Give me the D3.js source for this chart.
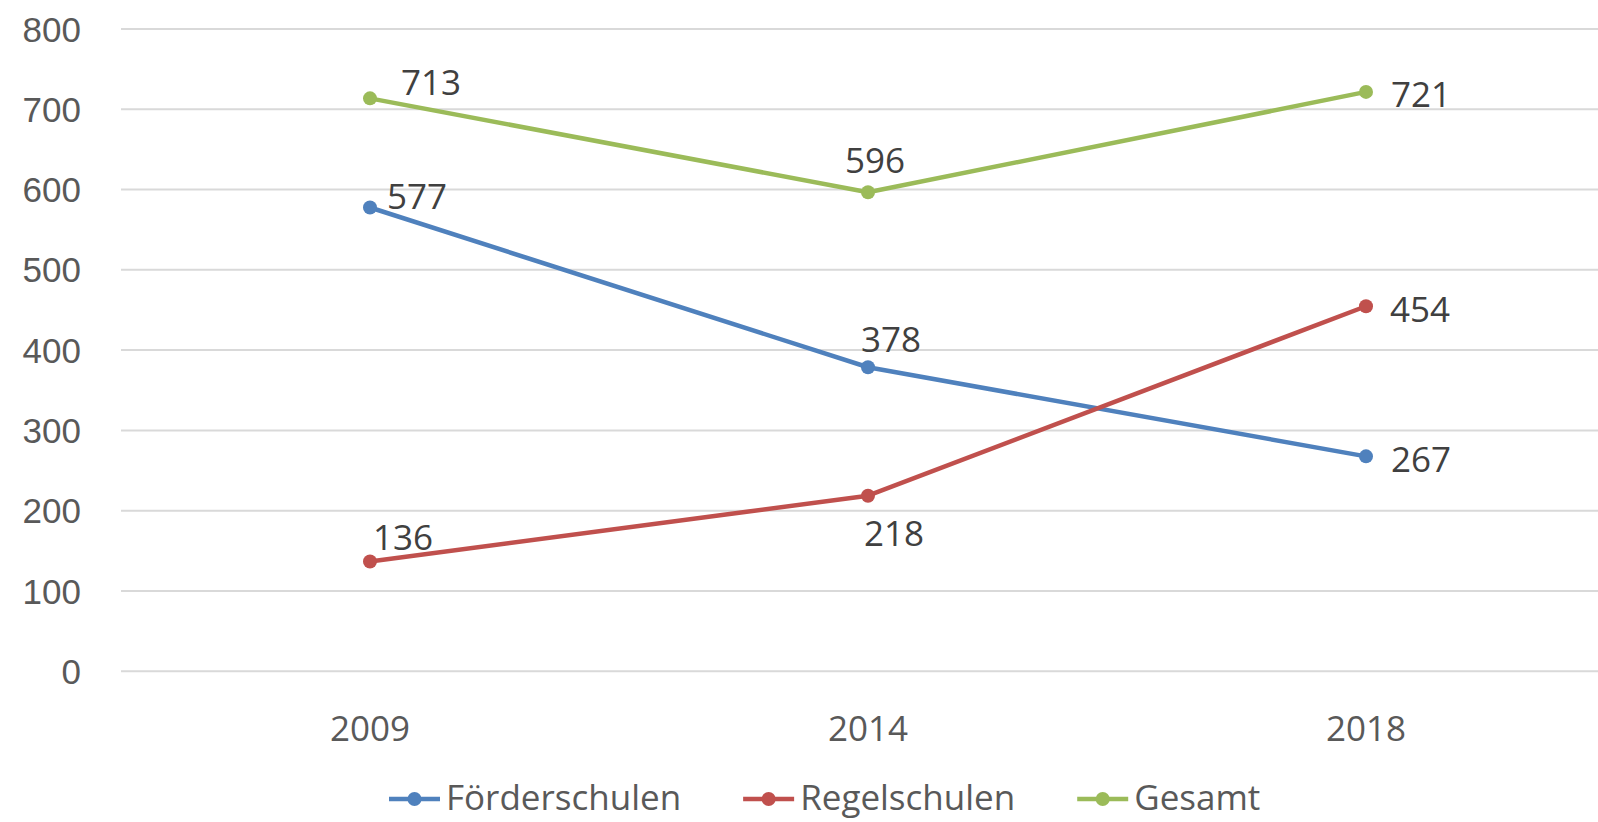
<!DOCTYPE html>
<html>
<head>
<meta charset="utf-8">
<script src="https://cdn.jsdelivr.net/npm/d3@7"></script>
<style>
  html, body { margin: 0; padding: 0; background: #fff; }
  svg { display: block; font-family: "Open Sans", sans-serif; }
</style>
</head>
<body>
<div id="chart"></div>
<script>
// data
const years = ["2009", "2014", "2018"];
const foerderschulen = [577, 378, 267];
const regelschulen = [136, 218, 454];
const gesamt = [713, 596, 721];
const yTicks = [0, 100, 200, 300, 400, 500, 600, 700, 800];

const seriesNames = ["Förderschulen", "Regelschulen", "Gesamt"];
const seriesValues = [foerderschulen, regelschulen, gesamt];
const seriesColors = ["#4F81BD", "#C0504D", "#9BBB59"];

// where each data label sits relative to its point (dx, dy to baseline)
const labelOffsets = [
    [[17, 1], [-7, -15], [25, 16]],
    [[3, -12], [-4, 50], [24, 16]],
    [[31, -3], [-23, -19], [25, 15]]
];

const W = 1598, H = 822;
const plotLeft = 121, plotRight = 1598;

const svg = d3.select("#chart").append("svg")
    .attr("width", W)
    .attr("height", H);

const x = d3.scaleBand()
    .domain(years)
    .range([plotLeft, 1615]);

const y = d3.scaleLinear()
    .domain([0, 800])
    .range([670.7, 28.5]);

const cx = d => x(d) + x.bandwidth() / 2;

// y axis + gridlines
const yAxis = svg.append("g")
    .attr("transform", "translate(" + plotLeft + ",0)")
    .call(d3.axisLeft(y)
        .tickValues(yTicks)
        .tickSize(-(plotRight - plotLeft))
        .tickPadding(40));

yAxis.select(".domain").remove();
yAxis.selectAll(".tick line")
    .attr("stroke", "#D9D9D9")
    .attr("stroke-width", 2);
yAxis.selectAll(".tick text")
    .attr("fill", "#595959")
    .attr("font-size", "35px")
    .attr("dy", "0.36em");

// x labels
svg.append("g").selectAll("text")
    .data(years)
    .enter().append("text")
    .attr("x", cx)
    .attr("y", 741)
    .attr("text-anchor", "middle")
    .attr("fill", "#595959")
    .attr("font-size", "35px")
    .text(d => d);

const line = d3.line()
    .x((d, i) => cx(years[i]))
    .y(d => y(d));

// lines, markers, labels
seriesValues.forEach(function (vals, s) {
    const g = svg.append("g");
    g.append("path")
        .datum(vals)
        .attr("fill", "none")
        .attr("stroke", seriesColors[s])
        .attr("stroke-width", 4.5)
        .attr("stroke-linejoin", "round")
        .attr("d", line);

    g.selectAll("circle")
        .data(vals)
        .enter().append("circle")
        .attr("cx", (d, i) => cx(years[i]))
        .attr("cy", d => y(d))
        .attr("r", 7)
        .attr("fill", seriesColors[s]);

    g.selectAll("text")
        .data(vals)
        .enter().append("text")
        .attr("x", (d, i) => cx(years[i]) + labelOffsets[s][i][0])
        .attr("y", (d, i) => y(d) + labelOffsets[s][i][1])
        .attr("fill", "#404040")
        .attr("font-size", "35px")
        .text(d => d);
});

// legend (kept a little above the bottom edge so the text isn't clipped)
const legendY = 799;
let lx = 389;
const legend = svg.append("g");
seriesNames.forEach(function (name, s) {
    legend.append("line")
        .attr("x1", lx).attr("x2", lx + 51)
        .attr("y1", legendY).attr("y2", legendY)
        .attr("stroke", seriesColors[s])
        .attr("stroke-width", 4.5);
    legend.append("circle")
        .attr("cx", lx + 25.5).attr("cy", legendY)
        .attr("r", 7)
        .attr("fill", seriesColors[s]);
    const t = legend.append("text")
        .attr("x", lx + 57)
        .attr("y", 810)
        .attr("fill", "#595959")
        .attr("font-size", "35px")
        .text(name);
    lx += 57 + t.node().getComputedTextLength() + 62;
});
</script>
</body>
</html>
